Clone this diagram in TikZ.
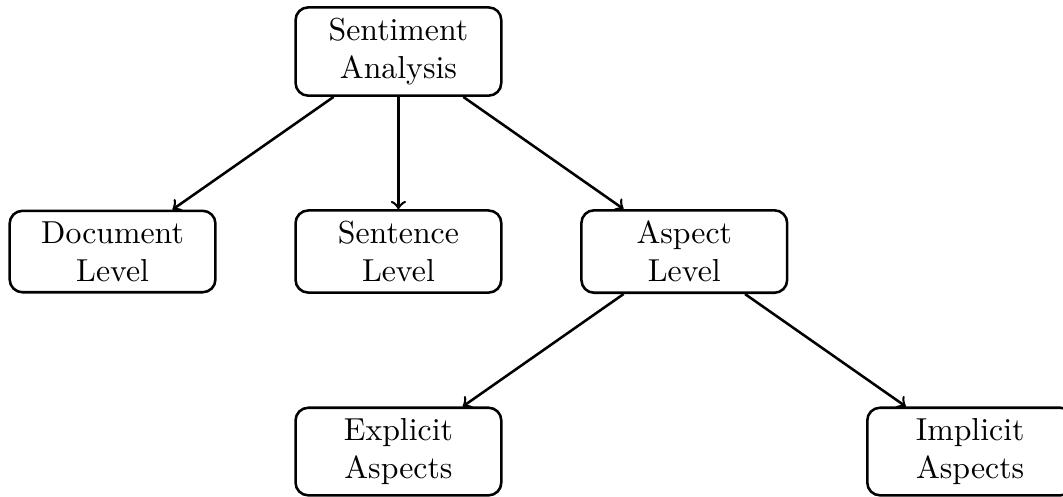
\documentclass[tikz,border=0pt]{standalone}
\usepackage{xcolor}
\usetikzlibrary{
    positioning
}

\begin{document}
\begin{tikzpicture}[
    x=1pt, y=1pt,
    levelbox/.style={
        rectangle,
        rounded corners=4pt,
        draw=black,
        thick,
        align=center,
        text width=2.04cm,
        fill=white
    },
    arrow/.style={
        ->,
        thick,
        draw=black
    }
]

\useasboundingbox (-125.3,-139.8) rectangle (209.0,16.2);

% =========================================================
% Root
% =========================================================
\node[levelbox] (sentiment) at (0,0)
{Sentiment\\Analysis};

% =========================================================
% Analysis levels
% =========================================================
\node[levelbox] (document) at (-89.9,-62.9)
{Document\\Level};

\node[levelbox] (sentence) at (0,-62.9)
{Sentence\\Level};

\node[levelbox] (aspect) at (89.9,-62.9)
{Aspect\\Level};

% =========================================================
% Aspect types
% =========================================================
\node[levelbox] (explicit) at (0,-125.8)
{Explicit\\Aspects};

\node[levelbox] (implicit) at (179.8,-125.8)
{Implicit\\Aspects};

% =========================================================
% Arrows
% =========================================================
\draw[arrow] (sentiment) -- (document);
\draw[arrow] (sentiment) -- (sentence);
\draw[arrow] (sentiment) -- (aspect);

\draw[arrow] (aspect) -- (explicit);
\draw[arrow] (aspect) -- (implicit);

\end{tikzpicture}
\end{document}
